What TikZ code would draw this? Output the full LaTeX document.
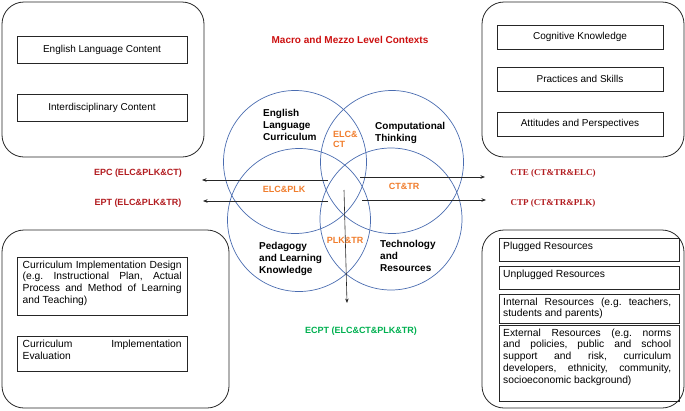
\documentclass[tikz,border=0pt]{standalone}
\usepackage{fontspec}
\setmainfont{Liberation Sans}
\newfontfamily\serifb{Liberation Serif}
\usetikzlibrary{arrows.meta}
\definecolor{circblue}{RGB}{74,108,176}
\definecolor{titlered}{RGB}{204,16,16}
\definecolor{labred}{RGB}{178,28,32}
\definecolor{orng}{RGB}{240,125,45}
\definecolor{grn}{RGB}{0,176,80}
\frenchspacing
\tikzset{
  outerbox/.style={draw=black!85, line width=0.8pt, rounded corners=22pt},
  ibox/.style={draw=black!85, line width=0.7pt, inner sep=0pt, font=\fontsize{10}{12}\selectfont},
  jtext/.style={inner sep=0pt, align=justify, font=\fontsize{10.3}{11.8}\selectfont},
  circ/.style={draw=circblue, line width=0.7pt},
  clabel/.style={inner sep=0pt, align=left, anchor=north west, font=\fontsize{10}{12}\selectfont\bfseries},
  olabel/.style={inner sep=0pt, text=orng, font=\fontsize{9}{10}\selectfont\bfseries},
  rlabel/.style={inner sep=0pt, text=labred, font=\fontsize{9}{11}\selectfont\bfseries},
  slabel/.style={inner sep=0pt, text=labred, font=\fontsize{9}{11}\selectfont\serifb\bfseries},
  arr/.style={draw=black!85, line width=0.6pt, -{Stealth[length=4.5pt,width=3.5pt]}}
}
\begin{document}
\begin{tikzpicture}[x=1pt,y=-1pt]
\useasboundingbox (0,0) rectangle (685,410);
% outer boxes
\draw[outerbox] (2,2) rectangle (204,157);
\draw[outerbox] (482,2) rectangle (684,157);
\draw[outerbox] (2,230) rectangle (229,408);
\draw[outerbox] (482,230) rectangle (684,408);
% top-left inner
\node[ibox, minimum width=170pt, minimum height=27pt] (elc) at (102,49.5) {English Language Content};
\node[ibox, minimum width=170pt, minimum height=27pt] (idc) at (102,107.5) {Interdisciplinary Content};
% top-right inner
\node[ibox, minimum width=166pt, minimum height=24pt] (cog) at (580,37) {Cognitive Knowledge};
\node[ibox, minimum width=166pt, minimum height=24pt] (prs) at (580,79) {Practices and Skills};
\node[ibox, minimum width=166pt, minimum height=24pt] (att) at (580,124) {Attitudes and Perspectives};
% bottom-left inner
\node[ibox, anchor=north west, minimum width=170pt, minimum height=58pt] (cidbox) at (17,257) {};
\node[jtext, anchor=north west, text width=159pt] (cid) at (22.5,260.5)
 {Curriculum Implementation Design\linebreak (e.g. Instructional Plan, Actual\linebreak Process and Method of Learning\linebreak and Teaching)};
\node[ibox, anchor=north west, minimum width=170pt, minimum height=35pt] (cievbox) at (17,336) {};
\node[jtext, anchor=north west, text width=159pt] (ciev) at (22.5,340)
 {Curriculum Implementation\linebreak Evaluation};
% bottom-right inner
\node[ibox, anchor=north west, minimum width=180pt, minimum height=23pt] (plbox) at (499,238) {};
\node[jtext, anchor=north west, text width=168pt] (pl) at (503,242) {Plugged Resources};
\node[ibox, anchor=north west, minimum width=180pt, minimum height=23pt] (unbox) at (499,266) {};
\node[jtext, anchor=north west, text width=168pt] (un) at (503,270) {Unplugged Resources};
\node[ibox, anchor=north west, minimum width=180pt, minimum height=29pt] (inbox) at (499,294) {};
\node[jtext, anchor=north west, text width=168pt] (inr) at (503,297.5) {Internal Resources (e.g. teachers,\linebreak students and parents)};
\node[ibox, anchor=north west, minimum width=180pt, minimum height=76pt] (exbox) at (499,325) {};
\node[jtext, anchor=north west, text width=168pt] (exr) at (503,328.5)
 {External Resources (e.g. norms\linebreak and policies, public and school\linebreak support and risk, curriculum\linebreak developers, ethnicity, community,\linebreak socioeconomic background)};
% title
\node[inner sep=0pt, text=titlered, font=\fontsize{10}{12}\selectfont\bfseries] (title) at (350,39.5) {Macro and Mezzo Level Contexts};
% circles
\node[circ, circle, minimum size=143pt, inner sep=0pt] (cELC) at (295,162) {};
\node[circ, circle, minimum size=143pt, inner sep=0pt] (cCT) at (392,162) {};
\node[circ, circle, minimum size=143pt, inner sep=0pt] (cPLK) at (299,220) {};
\node[circ, circle, minimum size=142pt, inner sep=0pt] (cTR) at (391,219) {};
% circle labels
\node[clabel] (lELC) at (263,109.3) {English\\Language\\Curriculum};
\node[clabel] (lCT) at (375,122.3) {Computational\\Thinking};
\node[clabel] (lPLK) at (259,242.3) {Pedagogy\\and Learning\\Knowledge};
\node[clabel] (lTR) at (380,240.3) {Technology\\and\\Resources};
% intersection labels
\node[olabel, align=left, anchor=north west] (iEC) at (333,131.5) {ELC\&\\CT};
\node[olabel] (iEP) at (284,189) {ELC\&PLK};
\node[olabel] (iCT) at (404,186) {CT\&TR};
\node[olabel] (iPT) at (345,240) {PLK\&TR};
% arrow end points
\coordinate (a1s) at (328,180); \coordinate (a1e) at (202,180);
\coordinate (a2s) at (328,201); \coordinate (a2e) at (203,201);
\coordinate (a3s) at (360,177); \coordinate (a3e) at (485,177);
\coordinate (a4s) at (362,200); \coordinate (a4e) at (486,200);
\coordinate (a5s) at (344,190); \coordinate (a5e) at (347,303);
\draw[arr] (a1s) -- (a1e);
\draw[arr] (a2s) -- (a2e);
\draw[arr] (a3s) -- (a3e);
\draw[arr] (a4s) -- (a4e);
\draw[arr] (a5s) -- (a5e);
% outcome labels
\node[rlabel] (epc) at (138,173) {EPC (ELC\&PLK\&CT)};
\node[rlabel] (ept) at (138,203) {EPT (ELC\&PLK\&TR)};
\node[slabel] (cte) at (553,173) {CTE (CT\&TR\&ELC)};
\node[slabel] (ctp) at (553,203) {CTP (CT\&TR\&PLK)};
\node[inner sep=0pt, text=grn, font=\fontsize{9}{11}\selectfont\bfseries] (ecpt) at (361,331) {ECPT (ELC\&CT\&PLK\&TR)};
\end{tikzpicture}
\end{document}
